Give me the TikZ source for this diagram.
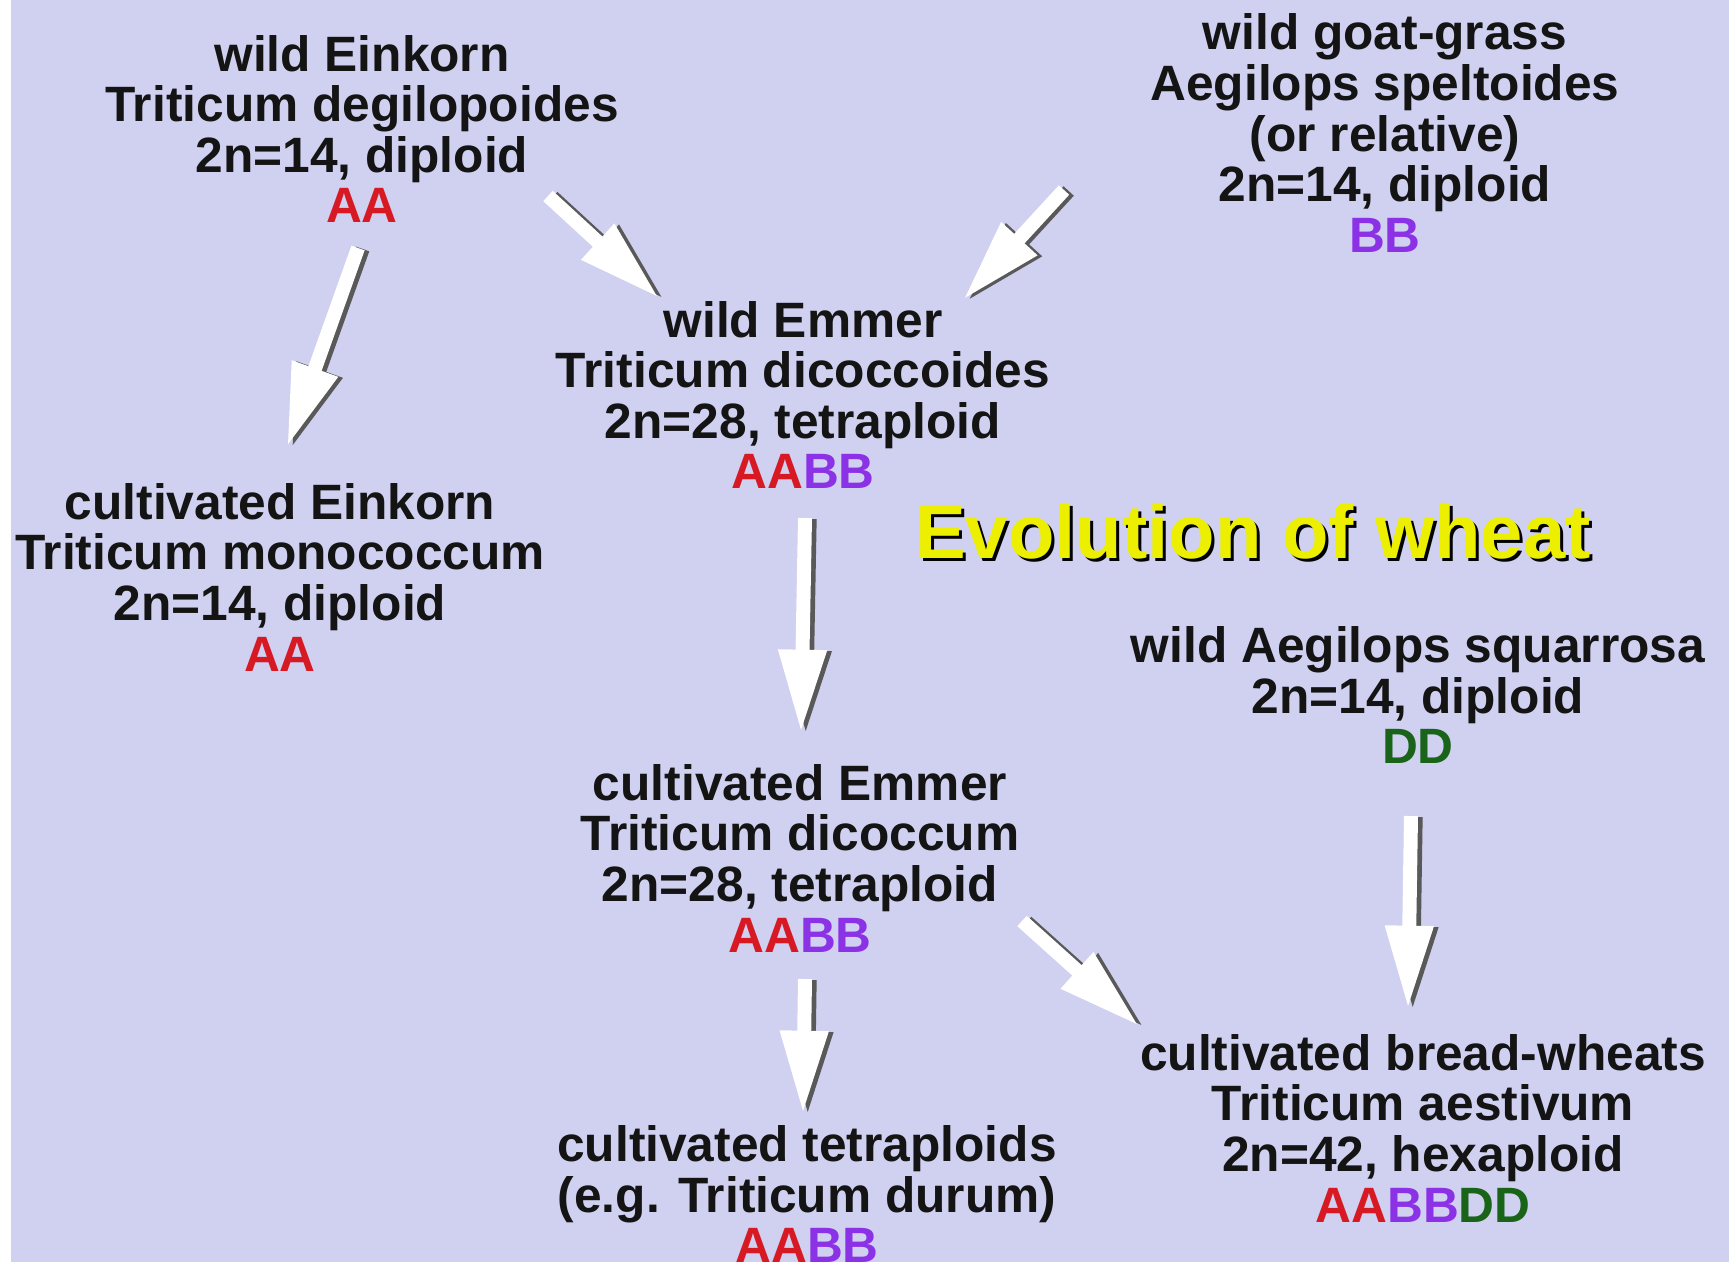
\documentclass[tikz,border=0pt]{standalone}
\usepackage{fontspec}
\setmainfont{Liberation Sans}
\usetikzlibrary{arrows.meta}

\definecolor{bgviolet}{RGB}{208,208,240}
\definecolor{genA}{RGB}{215,25,35}
\definecolor{genB}{RGB}{140,50,230}
\definecolor{genD}{RGB}{25,100,25}
\definecolor{titleyellow}{RGB}{236,240,0}

\tikzset{
  taxon/.style={align=center, inner sep=0pt, text=black!92,
    font=\bfseries\fontsize{14.9}{15.2}\selectfont},
  headline/.style={inner sep=0pt, font=\bfseries\fontsize{22.8}{24}\selectfont},
  flow/.style={white, line width=4.2pt, -{Triangle[length=25pt,width=13.5pt]}},
  flowshade/.style={flow, black!65, transform canvas={xshift=1.4pt,yshift=-0.3pt}}
}

% white arrow with a dark edge
\newcommand{\wheatarrow}[2]{%
  \draw[flowshade] #1 -- #2;
  \draw[flow] #1 -- #2;}

\begin{document}
\begin{tikzpicture}[x=0.3pt, y=-0.3pt]
  \fill[white] (0,0) rectangle (1729,1262);
  \fill[bgviolet] (11,0) rectangle (1729,1262);
  \useasboundingbox (0,0) rectangle (1729,1262);

  % wild diploids
  \node[taxon] (einkorn) at (362,129) {wild Einkorn\\Triticum degilopoides\\2n=14, diploid\\{\color{genA}AA}};
  \node[taxon] (goatgrass) at (1385,133) {wild goat-grass\\Aegilops speltoides\\(or relative)\\2n=14, diploid\\{\color{genB}BB}};
  \node[taxon] (squarrosa) at (1418,695) {wild Aegilops squarrosa\\2n=14, diploid\\{\color{genD}DD}};

  % the rest
  \node[taxon] (emmer) at (803,395) {wild Emmer\\Triticum dicoccoides\\2n=28, tetraploid\\{\color{genA}AA}{\color{genB}BB}};
  \node[taxon] (culteinkorn) at (280,577) {cultivated Einkorn\\Triticum monococcum\\2n=14, diploid\\{\color{genA}AA}};
  \node[taxon] (cultemmer) at (800,858) {cultivated Emmer\\Triticum dicoccum\\2n=28, tetraploid\\{\color{genA}AA}{\color{genB}BB}};
  \node[taxon] (bread) at (1423,1128) {cultivated bread-wheats\\Triticum aestivum\\2n=42, hexaploid\\{\color{genA}AA}{\color{genB}BB}{\color{genD}DD}};
  \node[taxon] (tetra) at (807,1194) {cultivated tetraploids\\(e.g. Triticum durum)\\{\color{genA}AA}{\color{genB}BB}};

  \node[headline, black] (titleshade) at (1256,534) {Evolution of wheat};
  \node[headline, text=titleyellow] (title) at (1253,531) {Evolution of wheat};

  % arrows
  \wheatarrow{([shift={(-4,119)}]einkorn.center)}{([shift={(7,-130)}]culteinkorn.center)}
  \wheatarrow{([shift={(186,67)}]einkorn.center)}{([shift={(-144,-97)}]emmer.center)}
  \wheatarrow{([shift={(-321,57)}]goatgrass.center)}{([shift={(160,-95)}]emmer.center)}
  \wheatarrow{([shift={(2,123)}]emmer.center)}{([shift={(1,-125)}]cultemmer.center)}
  \wheatarrow{([shift={(5,121)}]cultemmer.center)}{([shift={(-4,-80)}]tetra.center)}
  \wheatarrow{([shift={(222,63)}]cultemmer.center)}{([shift={(-284,-102)}]bread.center)}
  \wheatarrow{([shift={(-7,121)}]squarrosa.center)}{([shift={(-15,-119)}]bread.center)}
\end{tikzpicture}
\end{document}
